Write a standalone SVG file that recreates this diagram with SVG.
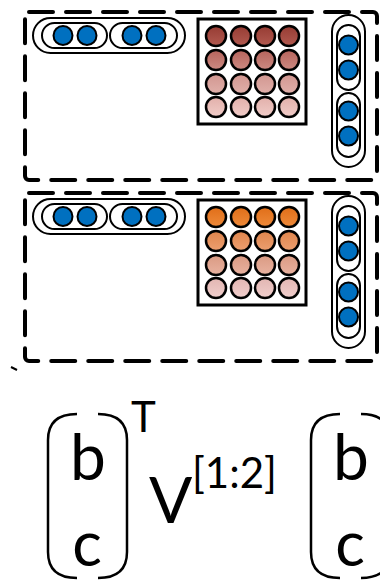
<svg xmlns="http://www.w3.org/2000/svg" width="380" height="580" viewBox="0 0 380 580">
<defs>
<linearGradient id="r1" x1="0" y1="0" x2="0" y2="1"><stop offset="0" stop-color="#963C33"/><stop offset="1" stop-color="#B25A50"/></linearGradient>
<linearGradient id="r2" x1="0" y1="0" x2="0" y2="1"><stop offset="0" stop-color="#B6645C"/><stop offset="1" stop-color="#CC8A82"/></linearGradient>
<linearGradient id="r3" x1="0" y1="0" x2="0" y2="1"><stop offset="0" stop-color="#D29690"/><stop offset="1" stop-color="#E0B0AA"/></linearGradient>
<linearGradient id="r4" x1="0" y1="0" x2="0" y2="1"><stop offset="0" stop-color="#E2B0AA"/><stop offset="1" stop-color="#F0CCC8"/></linearGradient>
<linearGradient id="o1" x1="0" y1="0" x2="0" y2="1"><stop offset="0" stop-color="#E06E18"/><stop offset="1" stop-color="#EE8A3A"/></linearGradient>
<linearGradient id="o2" x1="0" y1="0" x2="0" y2="1"><stop offset="0" stop-color="#E0854C"/><stop offset="1" stop-color="#EC9F70"/></linearGradient>
<linearGradient id="o3" x1="0" y1="0" x2="0" y2="1"><stop offset="0" stop-color="#DA9A82"/><stop offset="1" stop-color="#E8B2A0"/></linearGradient>
<linearGradient id="o4" x1="0" y1="0" x2="0" y2="1"><stop offset="0" stop-color="#E2B6B2"/><stop offset="1" stop-color="#F0CECC"/></linearGradient>
<g id="hpill">
<rect x="33" y="18" width="152" height="35" rx="17.5" class="pill"/>
<rect x="42" y="23" width="65" height="25" rx="12.5" class="pill"/>
<rect x="110" y="23" width="67" height="25" rx="12.5" class="pill"/>
<circle cx="63" cy="35.5" r="9.5" class="blue"/>
<circle cx="87" cy="35.5" r="9.5" class="blue"/>
<circle cx="132" cy="35.5" r="9.5" class="blue"/>
<circle cx="156" cy="35.5" r="9.5" class="blue"/>
</g>
<g id="vpill">
<rect x="332" y="15" width="33" height="152" rx="16.5" class="pill"/>
<rect x="337" y="25" width="23" height="65" rx="11.5" class="pill"/>
<rect x="337" y="93" width="23" height="64" rx="11.5" class="pill"/>
<circle cx="348.5" cy="45" r="9.5" class="blue"/>
<circle cx="348.5" cy="70" r="9.5" class="blue"/>
<circle cx="348.5" cy="111" r="9.5" class="blue"/>
<circle cx="348.5" cy="136" r="9.5" class="blue"/>
</g>
</defs>
<style>
.dash{fill:none;stroke:#000;stroke-width:4;stroke-dasharray:24 13;stroke-linecap:round}
.pill{fill:none;stroke:#000;stroke-width:2}
.blue{fill:#0070C0;stroke:#000;stroke-width:2}
.mat{fill:#fff;stroke:#000;stroke-width:3}
.dot{stroke:#000;stroke-width:2.5}
.br{fill:none;stroke:#000;stroke-width:2.5}
.t{font-family:Lato,"Liberation Sans",sans-serif;fill:#000}
</style>
<rect width="380" height="580" fill="#fff"/>

<g id="box1">
<rect x="25" y="12" width="352" height="168" rx="4" class="dash"/>
<use href="#hpill"/>
<g id="matrix1">
<rect x="198" y="19" width="108" height="105" class="mat"/>
<g fill="url(#r1)" class="dot"><circle cx="216" cy="36" r="10"/><circle cx="241" cy="36" r="10"/><circle cx="265" cy="36" r="10"/><circle cx="289" cy="36" r="10"/></g>
<g fill="url(#r2)" class="dot"><circle cx="216" cy="60" r="10"/><circle cx="241" cy="60" r="10"/><circle cx="265" cy="60" r="10"/><circle cx="289" cy="60" r="10"/></g>
<g fill="url(#r3)" class="dot"><circle cx="216" cy="84" r="10"/><circle cx="241" cy="84" r="10"/><circle cx="265" cy="84" r="10"/><circle cx="289" cy="84" r="10"/></g>
<g fill="url(#r4)" class="dot"><circle cx="216" cy="107" r="10"/><circle cx="241" cy="107" r="10"/><circle cx="265" cy="107" r="10"/><circle cx="289" cy="107" r="10"/></g>
</g>
<use href="#vpill"/>
</g>

<g id="box2">
<rect x="25" y="193" width="352" height="168" rx="4" class="dash"/>
<use href="#hpill" transform="translate(0,181)"/>
<g id="matrix2" transform="translate(0,181)">
<rect x="198" y="19" width="108" height="105" class="mat"/>
<g fill="url(#o1)" class="dot"><circle cx="216" cy="36" r="10"/><circle cx="241" cy="36" r="10"/><circle cx="265" cy="36" r="10"/><circle cx="289" cy="36" r="10"/></g>
<g fill="url(#o2)" class="dot"><circle cx="216" cy="60" r="10"/><circle cx="241" cy="60" r="10"/><circle cx="265" cy="60" r="10"/><circle cx="289" cy="60" r="10"/></g>
<g fill="url(#o3)" class="dot"><circle cx="216" cy="84" r="10"/><circle cx="241" cy="84" r="10"/><circle cx="265" cy="84" r="10"/><circle cx="289" cy="84" r="10"/></g>
<g fill="url(#o4)" class="dot"><circle cx="216" cy="107" r="10"/><circle cx="241" cy="107" r="10"/><circle cx="265" cy="107" r="10"/><circle cx="289" cy="107" r="10"/></g>
</g>
<use href="#vpill" transform="translate(0,181)"/>
</g>

<g id="connectors">
<line x1="11" y1="367" x2="17" y2="370" stroke="#000" stroke-width="2"/>
</g>

<g id="formula">
<g id="vec1">
<path class="br" d="M77 414 Q48 414 48 440 L48 552 Q48 578 77 578"/>
<path class="br" d="M98 414 Q127 414 127 440 L127 552 Q127 578 98 578"/>
<text class="t" x="88" y="480" font-size="64" text-anchor="middle">b</text>
<text class="t" x="87" y="566" font-size="62" text-anchor="middle">c</text>
</g>
<text class="t" x="131" y="432" font-size="42">T</text>
<text class="t" x="149" y="523" font-size="64">V</text>
<text class="t" x="192" y="488" font-size="42">[1:2]</text>
<g id="vec2" transform="translate(263,0)">
<path class="br" d="M77 414 Q48 414 48 440 L48 552 Q48 578 77 578"/>
<path class="br" d="M98 414 Q127 414 127 440 L127 552 Q127 578 98 578"/>
<text class="t" x="88" y="480" font-size="64" text-anchor="middle">b</text>
<text class="t" x="87" y="566" font-size="62" text-anchor="middle">c</text>
</g>
</g>
</svg>
